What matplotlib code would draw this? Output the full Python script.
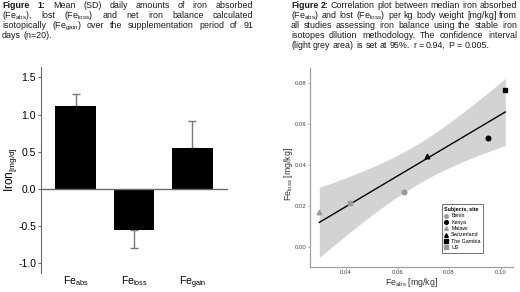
import numpy as np
import matplotlib
matplotlib.use('Agg')
import matplotlib.pyplot as plt
from matplotlib.lines import Line2D

plt.rcParams['font.family'] = ['Liberation Sans', 'DejaVu Sans']
plt.rcParams['mathtext.fontset'] = 'custom'
plt.rcParams['mathtext.rm'] = 'Liberation Sans'
plt.rcParams['mathtext.it'] = 'Liberation Sans:italic'
plt.rcParams['mathtext.bf'] = 'Liberation Sans:bold'
plt.rcParams['axes.unicode_minus'] = False

# figure 1: mean (SD) daily iron amounts
groups = ['Fe$_{\\mathrm{abs}}$', 'Fe$_{\\mathrm{loss}}$', 'Fe$_{\\mathrm{gain}}$']
means = [1.11, -0.55, 0.555]
sds = [0.16, 0.24, 0.36]
yticks1 = [-1.0, -0.5, 0.0, 0.5, 1.0, 1.5]

# figure 2: median iron absorbed vs lost per site
sites = ['Benin', 'Kenya', 'Malawi', 'Switzerland', 'The Gambia', 'US']
fe_abs = [0.0625, 0.0952, 0.0296, 0.0713, 0.1018, 0.0416]
fe_loss = [0.0265, 0.0532, 0.0171, 0.0442, 0.0764, 0.0212]
xticks2 = [0.04, 0.06, 0.08, 0.10]
yticks2 = [0.00, 0.02, 0.04, 0.06, 0.08]

cap1 = ['Figure 1: Mean (SD) daily amounts of iron absorbed',
        '(Fe$_{\\mathrm{abs}}$), lost (Fe$_{\\mathrm{loss}}$) and net iron balance calculated',
        'isotopically (Fe$_{\\mathrm{gain}}$) over the supplementation period of 91',
        'days (n=20).']
cap2 = ['Figure 2: Correlation plot between median iron absorbed',
        '(Fe$_{\\mathrm{abs}}$) and lost (Fe$_{\\mathrm{loss}}$) per kg body weight [mg/kg] from',
        'all studies assessing iron balance using the stable iron',
        'isotopes dilution methodology. The confidence interval',
        '(light grey area) is set at 95%. r = 0.94, P = 0.005.']

W, H = 520, 292
fig = plt.figure(figsize=(W / 100, H / 100), dpi=100)
fig.patch.set_facecolor('white')


def caption(lines, x0, x1, y0, step, size):
    # justified caption, one word at a time
    r = fig.canvas.get_renderer()
    a = fig.text(0, 0, 'a', fontsize=size)
    aa = fig.text(0, 0, 'a a', fontsize=size)
    space = aa.get_window_extent(r).width - 2 * a.get_window_extent(r).width
    a.remove()
    aa.remove()
    for i, line in enumerate(lines):
        y = 1 - (y0 + i * step) / H
        texts = []
        for j, w in enumerate(line.split(' ')):
            bold = (i == 0 and j < 2)
            t = fig.text(0, y, w, fontsize=size, va='baseline', color='#1a1a1a',
                         fontweight='bold' if bold else 'normal')
            texts.append(t)
        widths = [t.get_window_extent(r).width for t in texts]
        if i == len(lines) - 1:
            gap = space
        else:
            gap = max((x1 - x0 - sum(widths)) / (len(texts) - 1), 0.7 * space)
        x = x0
        for t, w in zip(texts, widths):
            t.set_x(x / W)
            x += w + gap


caption(cap1, 2, 253, 8.2, 10.0, 6.4)
caption(cap2, 291, 517, 8.2, 10.0, 6.4)

# ---- figure 1 bars
ax1 = fig.add_axes([41 / W, 19 / H, 187 / W, 206 / H])
x = np.arange(len(groups))
lower = [sd if m < 0 else 0 for m, sd in zip(means, sds)]
upper = [sd if m >= 0 else 0 for m, sd in zip(means, sds)]
ax1.errorbar(x, means, yerr=[lower, upper], fmt='none', ecolor='#7a7a7a',
             elinewidth=1, capsize=3, capthick=1, zorder=1)
ax1.bar(x, means, width=0.7, color='black', zorder=2)
ax1.axhline(0, color='#6a6a6a', lw=1, zorder=3)
ax1.set_xlim(-0.59, 2.607)
ax1.set_ylim(-1.128, 1.638)
ax1.set_yticks(yticks1)
ax1.set_yticklabels(['%.1f' % v for v in yticks1])
ax1.set_xticks(x)
ax1.set_xticklabels(groups, fontsize=7.5)
for s in ['top', 'right', 'bottom']:
    ax1.spines[s].set_visible(False)
ax1.spines['left'].set_color('#6a6a6a')
ax1.tick_params(axis='y', labelsize=7.5, length=2, width=0.8, color='#6a6a6a', pad=1.5)
ax1.tick_params(axis='x', length=0, pad=1)
ax1.set_ylabel('Iron$_{\\mathrm{[mg/d]}}$', fontsize=8.5)
ax1.yaxis.set_label_coords(-0.115, 0.5)
ax1.patch.set_alpha(0)

# ---- figure 2 scatter
ax2 = fig.add_axes([310 / W, 25 / H, 203 / W, 199 / H])
xa = np.array(fe_abs)
yl = np.array(fe_loss)
n = len(xa)
slope, icpt = np.polyfit(xa, yl, 1)
xs = np.linspace(xa.min(), xa.max(), 100)
ys = icpt + slope * xs
resid = yl - (icpt + slope * xa)
s = np.sqrt(np.sum(resid ** 2) / (n - 2))
se = s * np.sqrt(1 / n + (xs - xa.mean()) ** 2 / np.sum((xa - xa.mean()) ** 2))
t975 = 2.776
ax2.fill_between(xs, ys - t975 * se, ys + t975 * se, color='#d3d3d3', lw=0, zorder=1)
ax2.plot(xs, ys, color='black', lw=1, zorder=2)

site_style = {'Benin': ('o', '#9a9a9a'), 'Kenya': ('o', 'black'),
              'Malawi': ('^', '#9a9a9a'), 'Switzerland': ('^', 'black'),
              'The Gambia': ('s', 'black'), 'US': ('s', '#9a9a9a')}
handles = []
for site, xv, yv in zip(sites, fe_abs, fe_loss):
    mk, c = site_style[site]
    ax2.plot([xv], [yv], marker=mk, color=c, ms=3.3, ls='none', zorder=3)
    handles.append(Line2D([], [], marker=mk, color=c, ms=2.6, ls='none', label=site))

ax2.set_xlim(0.026, 0.1048)
ax2.set_ylim(-0.0099, 0.0872)
ax2.set_xticks(xticks2)
ax2.set_xticklabels(['%.2f' % v for v in xticks2])
ax2.set_yticks(yticks2)
ax2.set_yticklabels(['%.2f' % v for v in yticks2])
for sp in ['top', 'right']:
    ax2.spines[sp].set_visible(False)
for sp in ['left', 'bottom']:
    ax2.spines[sp].set_color('#a0a0a0')
    ax2.spines[sp].set_linewidth(0.9)
ax2.tick_params(labelsize=4.3, length=1.5, width=0.6, color='#a0a0a0',
                labelcolor='#444444', pad=1)
ax2.set_xlabel('Fe$_{\\mathrm{abs}}$ [mg/kg]', fontsize=6.3, color='#333333')
ax2.set_ylabel('Fe$_{\\mathrm{loss}}$ [mg/kg]', fontsize=6.3, color='#333333')
ax2.xaxis.set_label_coords(0.5, -0.045)
ax2.yaxis.set_label_coords(-0.075, 0.47)

leg = ax2.legend(handles=handles, title='Subjects, site', loc='lower left',
                 bbox_to_anchor=(0.649, 0.072), borderaxespad=0, fontsize=3.8,
                 title_fontsize=3.8, frameon=True, fancybox=False, handlelength=0.8,
                 handletextpad=0.5, labelspacing=0.25, borderpad=0.5)
leg.get_title().set_fontweight('bold')
leg._legend_box.align = 'left'
leg.get_frame().set_edgecolor('#333333')
leg.get_frame().set_linewidth(0.6)

fig.savefig('out.png', dpi=100)
